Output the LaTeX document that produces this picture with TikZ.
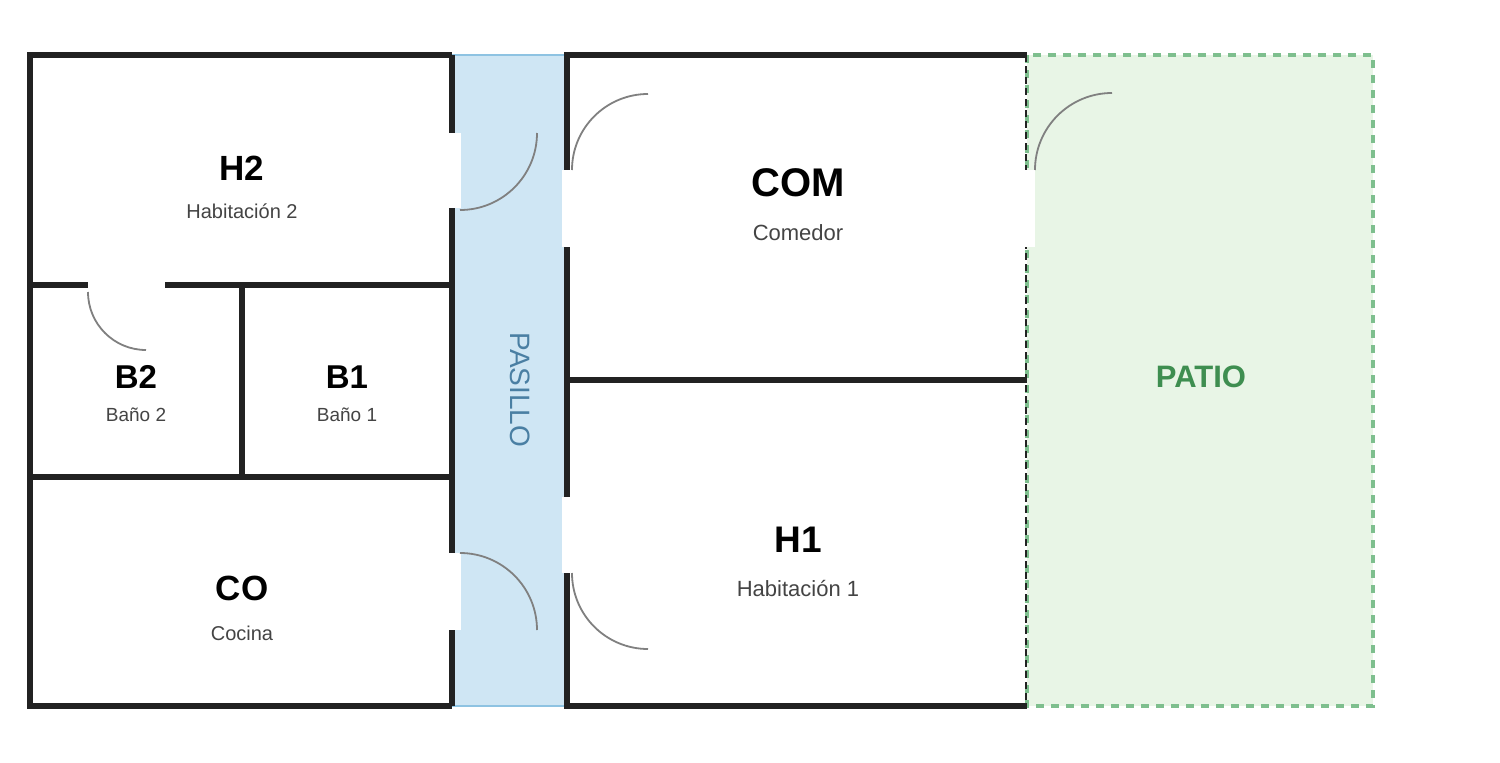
\documentclass[tikz,border=0pt]{standalone}
\usepackage{fontspec}
\setmainfont{Liberation Sans}
\begin{document}
\begin{tikzpicture}[x=1pt,y=-1pt,
  wall/.style={line width=6pt,draw=wallc,line cap=square},
  gap/.style={fill=white,draw=none},
  door/.style={line width=1.8pt,draw=doorc},
  title/.style={font=\bfseries\fontsize{#1}{#1}\selectfont,text=black,inner sep=0pt},
  sub/.style={font=\fontsize{#1}{#1}\selectfont,text=subc,inner sep=0pt}]
\definecolor{wallc}{HTML}{222222}
\definecolor{doorc}{HTML}{808080}
\definecolor{subc}{HTML}{444444}
\definecolor{pasfill}{HTML}{CFE6F4}
\definecolor{pasline}{HTML}{8EC3E2}
\definecolor{patfill}{HTML}{E8F5E6}
\definecolor{patline}{HTML}{7EBF8E}
\definecolor{pattext}{HTML}{3E8E50}
\definecolor{pastext}{HTML}{4A7FA3}
\useasboundingbox (0,0) rectangle (1500,763);
\fill[white] (0,0) rectangle (1500,763);
% patio
\draw[fill=patfill,draw=patline,line width=4pt,dash pattern=on 8pt off 7pt] (1027,55) rectangle (1373,706);
% pasillo
\draw[fill=pasfill,draw=pasline,line width=2pt] (452,55) rectangle (567,706);
% walls
\draw[wall] (452,55) -- (30,55) -- (30,706) -- (452,706);
\draw[wall] (1027,55) -- (567,55) -- (567,706) -- (1027,706);
\draw[wall] (452,55) -- (452,706);
\draw[wall] (30,285) -- (452,285);
\draw[wall] (242,285) -- (242,477);
\draw[wall] (30,477) -- (452,477);
\draw[wall] (567,380) -- (1027,380);
\draw[wallc,line width=2.5pt,dash pattern=on 7pt off 4pt] (1026,55) -- (1026,706);
% door gaps
\fill[gap] (448,133) rectangle (461,208);
\fill[gap] (448,553) rectangle (461,630);
\fill[gap] (562,170) rectangle (573,247);
\fill[gap] (562,497) rectangle (573,573);
\fill[gap] (1023,170) rectangle (1035,247);
\fill[gap] (88,281) rectangle (165,289);
% door arcs
\draw[door] (537,133) arc[start angle=0,end angle=90,radius=77];
\draw[door] (460,553) arc[start angle=-90,end angle=0,radius=77];
\draw[door] (572,170) arc[start angle=180,end angle=270,radius=76];
\draw[door] (572,573) arc[start angle=180,end angle=90,radius=76];
\draw[door] (1035,170) arc[start angle=180,end angle=270,radius=77];
\draw[door] (88,292) arc[start angle=180,end angle=90,radius=58];
% labels
\node[title=35] (h2) at (242,168) {H2};
\node[sub=20] (h2s) at (242,211) {Habitación 2};
\node[title=33] (b2) at (136,377) {B2};
\node[sub=19] (b2s) at (136,415) {Baño 2};
\node[title=33] (b1) at (347,377) {B1};
\node[sub=19] (b1s) at (347,415) {Baño 1};
\node[title=35] (co) at (242,588) {CO};
\node[sub=20] (cos) at (242,633) {Cocina};
\node[title=40] (com) at (798,183) {COM};
\node[sub=22] (coms) at (798,233) {Comedor};
\node[title=37] (h1) at (798,540) {H1};
\node[sub=22] (h1s) at (798,589) {Habitación 1};
\node[title=31,text=pattext] (patio) at (1201,377) {PATIO};
\node[font=\fontsize{28}{28}\selectfont,text=pastext,inner sep=0pt,rotate=-90] (pas) at (520,390) {PASILLO};
\end{tikzpicture}
\end{document}
